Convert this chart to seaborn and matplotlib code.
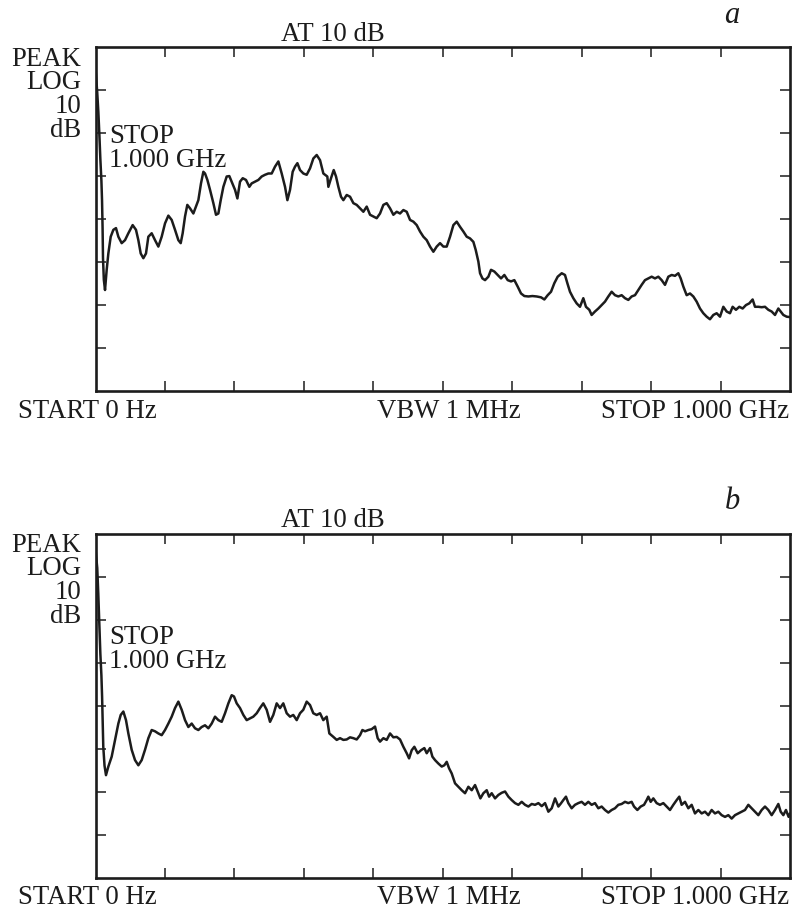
import matplotlib
matplotlib.use("Agg")
import matplotlib.pyplot as plt
import seaborn as sns
import pandas as pd

# ---------------- data (frequency in MHz, level in dB rel. top graticule) ----------------
freq_a = [0, 1.0, 2.5, 4.1, 5.5, 7.0, 8.5, 9.4, 10.2, 10.8,
          12.0, 13.7, 15.2, 16.1, 18.5, 21.9, 25.7, 29.5, 32.9, 37.7,
          42.5, 47.3, 53.5, 58.3, 61.7, 65.1, 68.9, 72.7, 76.1, 80.9,
          85.7, 90.5, 95.3, 100.1, 104.9, 109.7, 114.5, 119.3, 122.7, 125.5,
          128.9, 132.2, 136.1, 140.9, 144.7, 148.1, 151.9, 155.3, 157.7, 161.1,
          164.9, 169.7, 173.5, 176.9, 180.3, 184.1, 188.9, 192.7, 196.1, 200.9,
          204.3, 208.1, 212.0, 216.7, 221.5, 224.9, 229.7, 234.5, 239.3, 244.1,
          248.9, 253.7, 258.5, 263.3, 268.1, 272.9, 276.3, 280.1, 283.9, 287.3,
          290.7, 294.5, 299.3, 304.1, 308.9, 313.7, 318.5, 323.3, 328.1, 333.8,
          335.3, 339.1, 343.0, 346.3, 349.7, 353.5, 356.9, 361.7, 366.5, 371.3,
          376.1, 380.9, 385.7, 390.5, 395.3, 400.1, 404.9, 409.7, 414.5, 419.3,
          424.1, 428.9, 433.7, 438.5, 443.3, 448.1, 452.9, 457.7, 462.5, 467.3,
          472.1, 476.9, 481.7, 486.5, 491.3, 496.1, 500.9, 505.7, 510.5, 515.3,
          520.1, 524.9, 529.7, 534.5, 539.3, 544.1, 547.5, 551.3, 553.7, 557.1,
          560.9, 565.7, 569.5, 574.3, 579.1, 583.9, 588.7, 593.5, 598.3, 603.1,
          607.9, 612.7, 617.5, 623.3, 629.1, 635.3, 641.5, 646.3, 651.1, 655.9,
          660.7, 665.5, 671.3, 676.0, 679.4, 683.2, 688.0, 692.8, 697.6, 702.4,
          706.2, 711.0, 714.4, 719.2, 724.0, 728.8, 733.6, 738.4, 743.2, 748.0,
          752.8, 757.6, 762.4, 767.2, 772.0, 776.8, 781.6, 786.4, 791.2, 796.0,
          800.8, 805.6, 810.4, 815.2, 820.0, 824.8, 829.6, 834.4, 839.2, 842.6,
          846.4, 851.2, 856.0, 860.8, 865.6, 870.4, 875.2, 880.0, 884.8, 889.6,
          894.4, 899.2, 904.0, 908.8, 913.6, 917.4, 922.2, 927.0, 931.8, 936.6,
          941.4, 946.2, 949.6, 954.4, 959.2, 964.0, 968.8, 973.6, 978.4, 983.2,
          986.6, 990.4, 995.2, 1000]
level_a = [-4.8, -7.0, -10.5, -15.0, -20.0, -26.0, -31.0, -35.5, -42.0, -49.0,
           -54.0, -56.4, -53.5, -51.7, -47.9, -44.0, -42.4, -42.0, -44.0, -45.5,
           -44.8, -43.2, -41.3, -42.4, -44.8, -47.9, -49.0, -47.9, -44.0, -43.2,
           -44.8, -46.3, -44.0, -40.9, -39.1, -40.1, -42.4, -44.8, -45.5, -43.2,
           -39.3, -36.6, -37.4, -38.6, -37.0, -35.5, -31.6, -28.9, -29.3, -30.8,
           -33.1, -36.2, -38.9, -38.6, -35.5, -32.4, -30.0, -29.9, -31.2, -33.1,
           -35.1, -31.2, -30.4, -30.8, -32.4, -31.6, -31.2, -30.8, -30.0, -29.6,
           -29.3, -29.3, -27.7, -26.5, -29.3, -32.4, -35.5, -33.1, -28.9, -27.7,
           -26.9, -28.5, -29.3, -29.6, -28.1, -25.8, -25.0, -26.2, -29.3, -30.0,
           -32.4, -30.4, -28.5, -30.0, -32.4, -34.7, -35.5, -34.3, -34.7, -36.2,
           -36.6, -37.4, -38.2, -37.0, -38.9, -39.3, -39.7, -38.6, -36.6, -36.2,
           -37.4, -38.9, -38.2, -38.6, -37.8, -38.2, -40.1, -40.5, -41.3, -42.8,
           -44.0, -44.8, -46.3, -47.5, -46.3, -45.5, -46.3, -46.3, -44.0, -41.3,
           -40.5, -41.7, -42.8, -44.0, -44.4, -45.2, -47.1, -49.8, -52.5, -53.7,
           -54.1, -53.3, -51.7, -52.1, -52.9, -53.7, -52.9, -54.1, -54.4, -54.1,
           -55.6, -57.2, -57.8, -57.9, -57.8, -57.9, -58.1, -58.6, -57.6, -56.8,
           -54.8, -53.3, -52.5, -52.9, -54.8, -56.8, -58.3, -59.5, -60.3, -58.3,
           -60.3, -61.0, -62.2, -61.4, -60.7, -59.9, -59.1, -57.9, -56.8, -57.6,
           -57.9, -57.6, -58.3, -58.7, -57.9, -57.6, -56.4, -55.2, -54.1, -53.7,
           -53.3, -53.7, -53.3, -54.1, -55.2, -53.3, -52.9, -53.1, -52.5, -53.7,
           -55.6, -57.6, -57.2, -57.9, -59.1, -60.7, -61.8, -62.6, -63.2, -62.2,
           -61.8, -62.6, -60.3, -61.4, -61.8, -60.3, -61.0, -60.3, -60.7, -59.9,
           -59.5, -58.6, -60.3, -60.3, -60.4, -60.3, -61.0, -61.4, -62.2, -60.7,
           -61.4, -62.2, -62.6, -62.7]

freq_b = [0, 1.0, 2.5, 4.0, 5.5, 7.0, 8.5, 9.5, 11.2, 13.0,
          15.1, 18.5, 23.3, 28.1, 32.9, 36.3, 40.1, 43.9, 47.3, 52.1,
          56.9, 61.7, 66.5, 71.3, 76.1, 80.9, 85.7, 90.5, 95.3, 100.1,
          104.9, 109.7, 114.5, 119.3, 124.1, 128.9, 133.7, 138.5, 143.3, 148.1,
          152.9, 157.7, 162.5, 167.3, 172.1, 176.9, 181.7, 186.5, 191.3, 196.1,
          199.4, 203.3, 208.1, 212.9, 217.7, 222.5, 227.2, 232.1, 236.8, 241.6,
          246.5, 251.3, 256.0, 260.9, 265.7, 270.4, 275.3, 280.1, 284.8, 289.7,
          294.5, 299.2, 304.1, 308.9, 313.6, 318.5, 323.3, 328.0, 332.9, 336.7,
          342.5, 347.3, 352.1, 356.9, 361.7, 366.5, 371.3, 376.1, 380.9, 384.3,
          388.1, 392.9, 397.7, 402.5, 406.3, 409.7, 414.5, 419.3, 424.1, 428.9,
          433.7, 438.5, 443.3, 448.1, 451.5, 455.3, 459.1, 463.9, 468.7, 473.5,
          476.9, 481.7, 485.1, 488.9, 493.7, 498.5, 502.3, 505.7, 509.1, 512.9,
          517.7, 522.5, 527.3, 532.1, 536.9, 541.7, 546.5, 550.3, 554.2, 558.5,
          563.3, 566.7, 570.5, 575.3, 580.1, 584.9, 589.7, 594.5, 599.3, 604.1,
          608.9, 613.7, 618.5, 623.3, 628.1, 632.9, 637.7, 642.5, 647.3, 652.1,
          656.9, 661.7, 666.5, 670.0, 673.6, 677.4, 680.8, 685.6, 690.4, 695.2,
          700.0, 704.8, 709.6, 714.4, 719.2, 724.0, 728.8, 733.6, 738.4, 743.2,
          748.0, 752.8, 757.6, 762.4, 767.2, 772.0, 775.4, 780.2, 785.0, 789.8,
          793.6, 796.0, 799.4, 803.2, 808.0, 812.8, 817.6, 822.4, 827.2, 832.0,
          836.8, 840.6, 844.0, 848.8, 853.6, 858.4, 863.2, 868.0, 872.8, 877.6,
          882.4, 887.2, 892.0, 896.8, 901.6, 906.4, 911.2, 916.0, 920.8, 925.6,
          930.4, 935.2, 940.0, 944.8, 949.6, 954.4, 959.2, 964.0, 968.8, 973.6,
          978.4, 983.2, 986.6, 990.4, 994.2, 998.0, 1000]
level_b = [-3.5, -5.5, -8.0, -14.0, -21.0, -28.0, -33.0, -38.0, -49.6, -54.0,
           -56.2, -54.2, -51.9, -48.0, -44.2, -42.2, -41.4, -43.4, -46.5, -50.3,
           -52.7, -53.9, -52.7, -50.3, -47.6, -45.7, -46.0, -46.5, -46.9, -45.7,
           -44.2, -42.6, -40.6, -39.1, -41.0, -43.4, -45.0, -44.2, -45.3, -45.7,
           -45.0, -44.6, -45.3, -44.2, -42.6, -43.4, -43.8, -41.8, -39.5, -37.6,
           -37.9, -39.5, -40.6, -42.2, -43.4, -43.0, -42.6, -41.8, -40.6, -39.5,
           -41.0, -43.8, -42.2, -39.5, -40.6, -39.5, -41.8, -42.6, -42.2, -43.4,
           -41.8, -41.0, -39.1, -39.9, -41.8, -42.2, -41.8, -43.4, -42.6, -46.5,
           -47.3, -48.0, -47.6, -48.0, -47.9, -47.4, -47.6, -47.9, -46.9, -45.7,
           -46.0, -45.7, -45.5, -44.9, -47.6, -48.4, -47.6, -48.0, -46.5, -47.4,
           -47.3, -47.9, -49.6, -51.1, -52.3, -50.4, -49.6, -51.1, -50.4, -49.9,
           -51.1, -49.9, -51.9, -52.7, -53.5, -54.2, -53.9, -53.1, -54.6, -55.8,
           -58.1, -58.9, -59.7, -60.4, -58.9, -59.7, -58.5, -60.0, -61.6, -60.4,
           -59.7, -61.2, -60.4, -61.6, -60.8, -60.3, -60.0, -61.2, -62.0, -62.7,
           -63.1, -62.4, -63.1, -63.5, -62.9, -63.1, -62.7, -63.4, -62.7, -64.7,
           -63.9, -61.6, -63.5, -62.8, -62.0, -61.2, -62.7, -63.9, -63.1, -62.7,
           -62.4, -63.1, -62.4, -63.1, -62.7, -63.9, -63.5, -64.3, -64.9, -64.3,
           -63.9, -63.1, -62.9, -62.4, -62.7, -62.4, -63.5, -64.3, -63.5, -63.1,
           -62.0, -61.2, -62.4, -61.6, -62.7, -63.1, -62.7, -63.5, -64.3, -63.1,
           -62.0, -61.2, -63.1, -62.4, -63.9, -63.1, -65.1, -64.3, -65.1, -64.7,
           -65.5, -64.3, -65.1, -64.7, -65.5, -65.9, -65.5, -66.3, -65.5, -65.1,
           -64.7, -64.3, -63.1, -63.9, -64.7, -65.5, -64.3, -63.5, -64.3, -65.5,
           -64.3, -62.9, -64.7, -65.5, -64.3, -65.9, -65.1]

x_ticks = [100, 200, 300, 400, 500, 600, 700, 800, 900]
y_ticks = [-70, -60, -50, -40, -30, -20, -10]
left_labels = ["PEAK", "LOG", "10", "dB"]
top_label = "AT 10 dB"
marker_label = "STOP\n1.000 GHz"
bottom_labels = ["START 0 Hz", "VBW 1 MHz", "STOP 1.000 GHz"]
panel_letters = ["a", "b"]

# ---------------- styling ----------------
sns.set_style("white")
plt.rcParams["font.family"] = ["Liberation Serif", "DejaVu Serif"]
INK = "#1c1c1c"

W, H = 794, 911
fig = plt.figure(figsize=(W / 100, H / 100), dpi=100)
fig.patch.set_facecolor("white")


def ftext(x, y, s, **kw):
    fig.text(x / W, 1 - y / H, s, color=INK, **kw)


panels = [
    dict(freq=freq_a, level=level_a, top=47.5, stop_y=(143, 167), letter=panel_letters[0]),
    dict(freq=freq_b, level=level_b, top=533.5, stop_y=(644, 668), letter=panel_letters[1]),
]

ax_left, ax_w, ax_h = 95.5, 694.5, 344

for p in panels:
    top = p["top"]
    bottom = top + ax_h
    ax = fig.add_axes([ax_left / W, 1 - bottom / H, ax_w / W, ax_h / H])
    df = pd.DataFrame({"freq": p["freq"], "level": p["level"]})
    sns.lineplot(data=df, x="freq", y="level", ax=ax, color=INK, linewidth=1.8,
                 estimator=None, sort=False)
    ax.set_xlim(0, 1000)
    ax.set_ylim(-80, 0)
    ax.set_xticks(x_ticks)
    ax.set_yticks(y_ticks)
    ax.tick_params(direction="in", top=True, right=True, bottom=True, left=True,
                   length=7, width=1.1, color=INK,
                   labelbottom=False, labelleft=False)
    ax.set_xlabel("")
    ax.set_ylabel("")
    for sp in ax.spines.values():
        sp.set_visible(True)
        sp.set_linewidth(1.9)
        sp.set_color(INK)

    fs = 19.3
    ftext(333, top - 6.5, top_label, ha="center", va="baseline", fontsize=fs)
    ftext(732, top - 24.5, p["letter"], ha="center", va="baseline", fontsize=22, style="italic")
    for lbl, dy in zip(left_labels, [18.5, 41.5, 65.5, 89.5]):
        ftext(81.5, top + dy, lbl, ha="right", va="baseline", fontsize=fs)
    s1, s2 = marker_label.split("\n")
    ftext(109.5, p["stop_y"][0], s1, ha="left", va="baseline", fontsize=fs)
    ftext(109.5, p["stop_y"][1], s2, ha="left", va="baseline", fontsize=fs)
    by = bottom + 26.5
    ftext(18, by, bottom_labels[0], ha="left", va="baseline", fontsize=fs)
    ftext(448.5, by, bottom_labels[1], ha="center", va="baseline", fontsize=fs)
    ftext(789, by, bottom_labels[2], ha="right", va="baseline", fontsize=fs)

fig.savefig("out.png", dpi=100, facecolor="white")
